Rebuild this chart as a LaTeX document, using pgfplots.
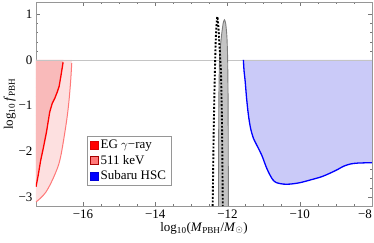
\documentclass[border=0pt]{standalone}
\usepackage{pgfplots}
\pgfplotsset{compat=1.18}
\usepackage{fontspec}
\setmainfont{Liberation Serif}
\definecolor{egfill}{RGB}{249,186,186}
\definecolor{kevfill}{RGB}{253,224,224}
\definecolor{kevline}{RGB}{255,120,120}
\definecolor{hscfill}{RGB}{202,202,248}
\definecolor{bandfill}{RGB}{196,196,196}
\definecolor{bandline}{RGB}{125,125,125}
\definecolor{frame}{RGB}{150,150,150}
\begin{document}
\begin{tikzpicture}
\useasboundingbox (-36pt,-36pt) rectangle (338pt,206pt);
\begin{axis}[
  width=336pt, height=204pt, scale only axis,
  xmin=-17.3, xmax=-8, ymin=-3.2, ymax=1.27,
  xtick={-16,-14,-12,-10,-8},
  xticklabels={−16,−14,−12,−10,\hspace*{-14pt}−8},
  ytick={-3,-2,-1,0,1},
  yticklabels={−3,−2,−1,0,1},
  minor x tick num=3, minor y tick num=4,
  tick align=inside,
  major tick length=4pt, minor tick length=2pt,
  axis line style={frame},
  every tick/.style={frame!80!black},
  tick label style={font=\fontsize{13}{15}\selectfont},
  label style={font=\fontsize{13}{15}\selectfont},
  xlabel={log\textsubscript{10}(\textit{M}\textsubscript{PBH}/\textit{M}\textsubscript{$\odot$})},
  ylabel={log\textsubscript{10}\,\textit{f}\textsubscript{PBH}},
  xlabel style={yshift=3pt},
  ylabel style={yshift=-4pt},
  legend style={at={(axis cs:-15.89,-1.66)}, anchor=north west, draw=frame,
    font=\fontsize{13}{15}\selectfont, cells={anchor=west}, row sep=1pt,
    inner xsep=3pt, inner ysep=2pt},
  legend image code/.code={\path[#1] (0.5pt,-4pt) rectangle (8.5pt,4pt);},
]
% 511 keV fill
\addplot[forget plot, fill=kevfill, draw=none] coordinates {
(-17.3,0) (-16.30,0) (-16.31,-0.07) (-16.34,-0.45) (-16.38,-0.84) (-16.43,-1.2)
(-16.5,-1.58) (-16.6,-2.05) (-16.68,-2.31) (-16.8,-2.55) (-16.92,-2.75)
(-17.03,-2.9) (-17.14,-3.0) (-17.22,-3.06) (-17.3,-3.11)} -- cycle;
% EG gamma-ray fill
\addplot[forget plot, fill=egfill, draw=none] coordinates {
(-17.3,0) (-16.54,0) (-16.55,-0.05) (-16.6,-0.3) (-16.66,-0.58) (-16.72,-0.72)
(-16.78,-0.84) (-16.85,-0.95) (-16.92,-1.14) (-17.01,-1.58) (-17.10,-1.94)
(-17.17,-2.2) (-17.24,-2.53) (-17.3,-2.78)} -- cycle;
% Subaru HSC fill
\addplot[forget plot, fill=hscfill, draw=none] coordinates {
(-11.56,0) (-11.54,-0.25) (-11.51,-0.47) (-11.47,-0.85) (-11.42,-1.21)
(-11.36,-1.5) (-11.28,-1.72) (-11.18,-1.88) (-11.05,-2.09) (-10.95,-2.3)
(-10.87,-2.45) (-10.75,-2.62) (-10.64,-2.69) (-10.45,-2.72) (-10.27,-2.72)
(-10.0,-2.69) (-9.71,-2.63) (-9.4,-2.56) (-9.16,-2.48) (-8.95,-2.4)
(-8.79,-2.33) (-8.6,-2.28) (-8.4,-2.26) (-8.0,-2.25) (-8.0,0)} -- cycle;
% zero line
\addplot[forget plot, bandfill, line width=0.8pt] coordinates {(-17.3,0) (-8,0)};
% gray band
\addplot[forget plot, fill=bandfill, draw=bandline, line width=0.9pt, smooth, tension=0.4] coordinates {
(-12.25,-3.2) (-12.24,-1) (-12.22,0) (-12.17,0.5) (-12.12,0.8) (-12.085,0.88)
(-12.05,0.8) (-12.015,0.5) (-11.995,0) (-11.982,-1) (-11.975,-3.2)};
% dotted curve
\addplot[forget plot, black, line width=1.9pt, dash pattern=on 1.9pt off 1.7pt, smooth, tension=0.4] coordinates {
(-12.41,-3.2) (-12.38,-1.5) (-12.35,-0.3) (-12.33,0.3) (-12.31,0.7) (-12.28,0.95)
(-12.25,0.7) (-12.22,0.3) (-12.18,-0.3) (-12.15,-1.5) (-12.13,-3.2)};
% lines
\addplot[forget plot, kevline, line width=1pt, smooth] coordinates {
(-16.31,-0.07) (-16.34,-0.45) (-16.38,-0.84) (-16.43,-1.2)
(-16.5,-1.58) (-16.6,-2.05) (-16.68,-2.31) (-16.8,-2.55) (-16.92,-2.75)
(-17.03,-2.9) (-17.14,-3.0) (-17.22,-3.06) (-17.3,-3.11)};
\addplot[forget plot, red, line width=1.3pt] coordinates {
(-16.55,-0.05) (-16.6,-0.3) (-16.66,-0.58) (-16.72,-0.72)
(-16.78,-0.84) (-16.85,-0.95) (-16.92,-1.14) (-17.01,-1.58) (-17.10,-1.94)
(-17.17,-2.2) (-17.24,-2.53) (-17.3,-2.78)};
\addplot[forget plot, blue, line width=1.3pt, smooth] coordinates {
(-11.56,0) (-11.54,-0.25) (-11.51,-0.47) (-11.47,-0.85) (-11.42,-1.21)
(-11.36,-1.5) (-11.28,-1.72) (-11.18,-1.88) (-11.05,-2.09) (-10.95,-2.3)
(-10.87,-2.45) (-10.75,-2.62) (-10.64,-2.69) (-10.45,-2.72) (-10.27,-2.72)
(-10.0,-2.69) (-9.71,-2.63) (-9.4,-2.56) (-9.16,-2.48) (-8.95,-2.4)
(-8.79,-2.33) (-8.6,-2.28) (-8.4,-2.26) (-8.0,-2.25)};
\addlegendimage{fill=red, draw=red!85!black, line width=0.5pt}
\addlegendentry{EG $\gamma$−ray}
\addlegendimage{fill=kevline, draw=red!65!black, line width=0.5pt}
\addlegendentry{511 keV}
\addlegendimage{fill=blue, draw=blue!85!black, line width=0.5pt}
\addlegendentry{Subaru HSC}
\end{axis}
\end{tikzpicture}
\end{document}
